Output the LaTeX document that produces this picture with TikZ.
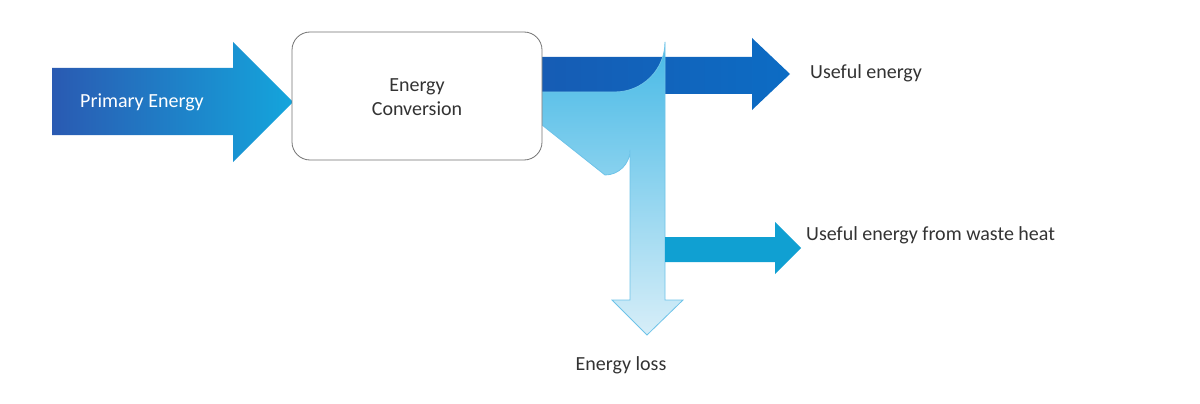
\documentclass[tikz,border=0pt]{standalone}
\usepackage{fontspec}
\setmainfont{Carlito}
\definecolor{peL}{RGB}{42,90,178}
\definecolor{peR}{RGB}{20,165,220}
\definecolor{ueL}{RGB}{22,92,180}
\definecolor{ueR}{RGB}{12,108,196}
\definecolor{bT}{RGB}{70,185,230}
\definecolor{bB}{RGB}{215,238,248}
\definecolor{bD}{RGB}{110,195,232}
\definecolor{wh}{RGB}{16,160,210}
\begin{document}
\begin{tikzpicture}[x=1pt,y=-1pt,
  lbl/.style={font=\fontsize{20}{24}\selectfont,text=black!80,inner sep=0pt},
  boxst/.style={draw=black!55,line width=0.8pt,rounded corners=18pt,fill=white}]
\useasboundingbox (0,0) rectangle (1200,404);
\shade[left color=peL,right color=peR]
 (52,68) -- (233,68) -- (233,42) -- (293,102) -- (233,162) -- (233,135) -- (52,135) -- cycle;
\node[lbl,text=white,anchor=west] (pe) at (80,102) {Primary Energy};
\shade[left color=ueL,right color=ueR]
 (542,57) -- (752,57) -- (752,38) -- (790,74) -- (752,110) -- (752,94) -- (542,94) -- cycle;
\shade[top color=bT,bottom color=bB,draw=bD,line width=0.8pt]
 (542,92) -- (615,92) arc[start angle=90,end angle=0,radius=50] -- (665,300) -- (683,300) -- (647,335)
 -- (612,300) -- (630,300) -- (630,150) arc[start angle=0,end angle=90,radius=25] -- (542,125) -- cycle;
\fill[wh]
 (665,237) -- (775,237) -- (775,222) -- (801,248) -- (775,274) -- (775,262) -- (665,262) -- cycle;
\node[boxst,minimum width=250pt,minimum height=128pt] (ec) at (417,96) {};
\node[lbl,align=center] (ect) at (417,97) {Energy\\Conversion};
\node[lbl,anchor=west] (ue) at (810,73) {Useful energy};
\node[lbl,anchor=west] (uw) at (806,235) {Useful energy from waste heat};
\node[lbl] (el) at (621,365) {Energy loss};
\end{tikzpicture}
\end{document}
